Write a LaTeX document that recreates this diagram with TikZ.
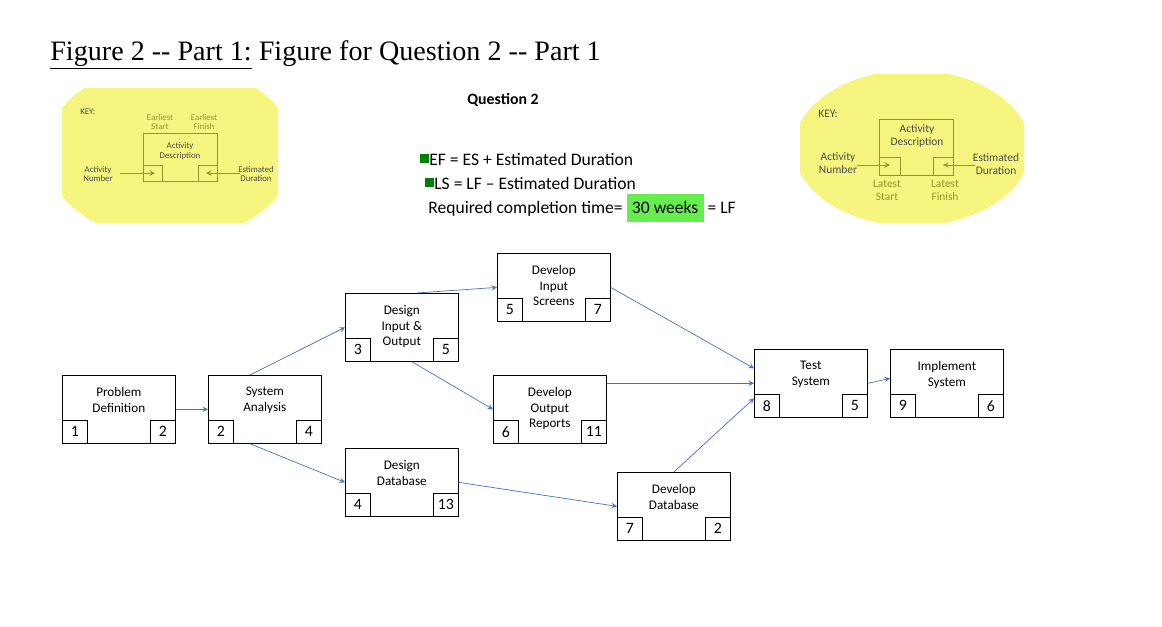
\documentclass[tikz,border=0pt]{standalone}
\usepackage{fontspec}
\setmainfont{Carlito}
\newfontfamily\titlefont{Liberation Serif}
\usepackage{xcolor}
\usetikzlibrary{shapes,arrows,positioning}
\definecolor{keyyellow}{RGB}{246,245,128}
\definecolor{keyolive}{RGB}{150,150,40}
\definecolor{linkblue}{RGB}{68,114,196}
\definecolor{hlgreen}{RGB}{102,238,80}
\begin{document}
\begin{tikzpicture}[x=0.02cm, y=-0.02cm, >=stealth]
    % Define styles
    \tikzstyle{activity} = [rectangle, draw, minimum width=2.26cm, minimum height=1.36cm, inner sep=0pt]
    \tikzstyle{label} = [font=\fontsize{7.5}{9}\selectfont, align=center]
    \tikzstyle{numbox} = [rectangle, draw, minimum width=0.5cm, minimum height=0.46cm, inner sep=0pt, font=\fontsize{9}{10}\selectfont]
    \tikzstyle{line} = [draw, ->, linkblue]
    \tikzstyle{keytext} = [font=\fontsize{5}{5.5}\selectfont, align=center, inner sep=0pt]
    \useasboundingbox (0,0) rectangle (1162,626);

    % Title and key
    \node [anchor=base west, inner sep=0pt, font=\titlefont\fontsize{16}{18}\selectfont] (title) at (50,60)
        {\underline{Figure 2 -- Part 1:} Figure for Question 2 -- Part 1};
    \begin{scope}
        \clip (62,88) rectangle (278,222);
        \fill [keyyellow] (170,152) ellipse (125 and 88);
    \end{scope}
    \begin{scope}
        \clip (800,74) rectangle (1024,222);
        \fill [keyyellow] (912,148) ellipse (118 and 78);
    \end{scope}
    % left key
    \node [keytext, anchor=west, text=black!70] (keyA) at (80,112) {KEY:};
    \draw [keyolive] (143,133) rectangle (217,181);
    \draw [keyolive] (143,165) rectangle (162,181) (198,165) rectangle (217,181);
    \node [keytext, text=keyolive] (esA) at (160,122) {Earliest\\Start};
    \node [keytext, text=keyolive] (efA) at (204,122) {Earliest\\Finish};
    \node [keytext, text=black!70] (descA) at (180,151) {Activity\\Description};
    \node [keytext, text=black!70] (numA) at (98,174) {Activity\\Number};
    \node [keytext, text=black!70] (durA) at (256,174) {Estimated\\Duration};
    \draw [->, keyolive] (120,173) -- (155,173);
    \draw [->, keyolive] (240,173) -- (206,173);
    % right key
    \node [keytext, anchor=west, text=black!70, font=\fontsize{6.5}{7}\selectfont] (keyB) at (818,114) {KEY:};
    \draw [keyolive] (879,119) rectangle (953,175);
    \draw [keyolive] (879,157) rectangle (900,175) (933,157) rectangle (953,175);
    \node [keytext, text=black!70, font=\fontsize{6.5}{7.5}\selectfont] (descB) at (917,136) {Activity\\Description};
    \node [keytext, text=black!70, font=\fontsize{6.5}{7.5}\selectfont] (numB) at (838,163) {Activity\\Number};
    \node [keytext, text=black!70, font=\fontsize{6.5}{7.5}\selectfont] (durB) at (996,164) {Estimated\\Duration};
    \node [keytext, text=keyolive, font=\fontsize{6.5}{7.5}\selectfont] (lsB) at (887,190) {Latest\\Start};
    \node [keytext, text=keyolive, font=\fontsize{6.5}{7.5}\selectfont] (lfB) at (945,190) {Latest\\Finish};
    \draw [->, keyolive] (857,165) -- (890,165);
    \draw [->, keyolive] (975,165) -- (943,165);

    % Formulas
    \node [font=\bfseries\fontsize{9}{10}\selectfont] (question) at (503,100) {Question 2};
    \fill [black!50!green] (420,154) rectangle (429,163);
    \node [anchor=west, inner sep=0pt, font=\fontsize{10}{12}\selectfont] (efrule) at (429,159) {EF = ES + Estimated Duration};
    \fill [black!50!green] (425,178) rectangle (434,187);
    \node [anchor=west, inner sep=0pt, font=\fontsize{10}{12}\selectfont] (lsrule) at (434,183) {LS = LF -- Estimated Duration};
    \node [anchor=west, inner sep=0pt, font=\fontsize{10}{12}\selectfont] (reqtime) at (428,208)
        {Required completion time= \colorbox{hlgreen}{\rule[-2pt]{0pt}{10pt}30 weeks} = LF};

    % Activities
    \foreach \name/\x/\y/\txt/\a/\b in {
        pd/62/375/Problem\\Definition/1/2,
        sa/208/375/System\\Analysis/2/4,
        dio/345/293/Design\\Input \&\\Output/3/5,
        dis/497/253/Develop\\Input\\Screens/5/7,
        dor/493/375/Develop\\Output\\Reports/6/11,
        ddes/345/448/Design\\Database/4/13,
        ddev/617/472/Develop\\Database/7/2,
        ts/754/349/Test\\System/8/5,
        is/890/349/Implement\\System/9/6} {
        \node [activity, anchor=north west] (\name) at (\x,\y) {};
        \node [label, anchor=north] (\name-t) at ([yshift=-0.12cm]\name.north) {\txt};
        \node [numbox, anchor=south west] (\name-a) at (\name.south west) {\a};
        \node [numbox, anchor=south east] (\name-b) at (\name.south east) {\b};
    }

    % Arrows
    \draw [line] (pd.east) -- (sa.west);
    \draw [line] ([xshift=-0.3cm]sa.north) -- (dio.west);
    \draw [line] ([xshift=-0.3cm]sa.south) -- (ddes.west);
    \draw [line] ([xshift=0.3cm]dio.north) -- (dis.west);
    \draw [line] ([xshift=0.2cm]dio.south) -- (dor.west);
    \draw [line] (ddes.east) -- (ddev.west);
    \draw [line] (dis.east) -- ([yshift=0.3cm]ts.west);
    \draw [line] (dor.east |- ts.west) -- (ts.west);
    \draw [line] (ddev.north) -- ([yshift=-0.3cm]ts.west);
    \draw [line] (ts.east) -- ([yshift=0.1cm]is.west);
\end{tikzpicture}
\end{document}
